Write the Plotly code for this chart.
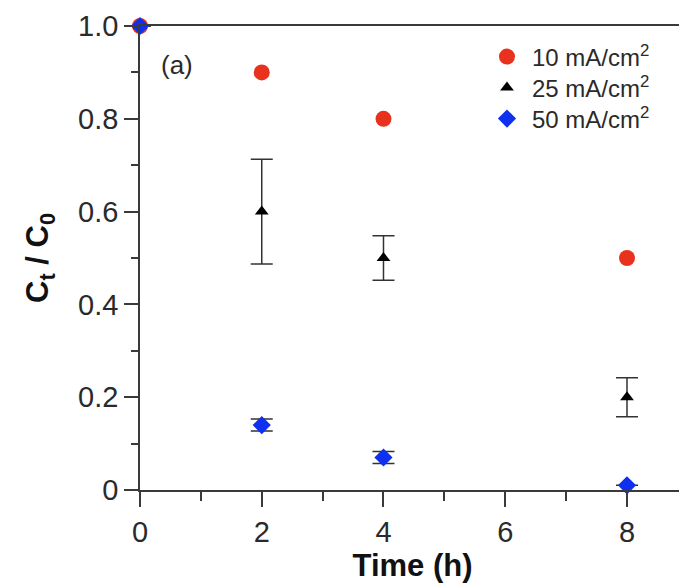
import plotly.graph_objects as go

time_h = [0, 2, 4, 8]
c10 = [1.0, 0.9, 0.8, 0.5]
c25 = [1.0, 0.6, 0.5, 0.2]
c25_err = [0.0, 0.113, 0.048, 0.042]
c50 = [1.0, 0.14, 0.07, 0.01]
c50_err = [0.0, 0.013, 0.013, 0.0]
names = ["10 mA/cm<sup>2</sup>", "25 mA/cm<sup>2</sup>", "50 mA/cm<sup>2</sup>"]
y_ticks = [0, 0.2, 0.4, 0.6, 0.8, 1.0]
y_ticktext = ["0", "0.2", "0.4", "0.6", "0.8", "1.0"]
x_ticks = [0, 2, 4, 6, 8]

FONT = "Liberation Sans, Arial, Helvetica, sans-serif"
AX = "#3a3a3a"
TXT = "#2a2a2a"

fig = go.Figure()
fig.add_trace(go.Scatter(x=time_h, y=c10, mode="markers", name=names[0], legend="legend",
                         marker=dict(symbol="circle", size=16, color="#e8321e"),
                         cliponaxis=False))
fig.add_trace(go.Scatter(x=time_h, y=c25, mode="markers", name=names[1], legend="legend2",
                         marker=dict(symbol="triangle-up", size=12, color="black"),
                         error_y=dict(type="data", array=c25_err, visible=True,
                                      color="#333333", thickness=1.5, width=11),
                         cliponaxis=False))
fig.add_trace(go.Scatter(x=time_h, y=c50, mode="markers", name=names[2], legend="legend3",
                         marker=dict(symbol="diamond", size=14, color="#1030f0"),
                         error_y=dict(type="data", array=c50_err, visible=True,
                                      color="#333333", thickness=1.5, width=11),
                         cliponaxis=False))

fig.add_annotation(x=0.035, y=0.915, xref="paper", yref="paper", text="(a)", showarrow=False,
                   xanchor="left", yanchor="middle",
                   font=dict(family=FONT, size=26, color=TXT))

leg_common = dict(xanchor="left", yanchor="middle", bgcolor="rgba(0,0,0,0)",
                  itemwidth=40, font=dict(family=FONT, size=24, color=TXT))
leg_x = 0.6275

fig.update_layout(
    width=679, height=577,
    margin=dict(l=132, r=2, t=18, b=95),
    paper_bgcolor="white", plot_bgcolor="white",
    font=dict(family=FONT, color=TXT),
    showlegend=True,
    legend=dict(x=leg_x, y=0.9332, **leg_common),
    legend2=dict(x=leg_x, y=0.8664, **leg_common),
    legend3=dict(x=leg_x, y=0.7996, **leg_common),
    xaxis=dict(range=[0, 8.953], tickvals=x_ticks, showgrid=False, zeroline=False,
               automargin=False,
               showline=True, linecolor=AX, linewidth=1.5, mirror=True,
               ticks="outside", ticklen=15, tickwidth=1.5, tickcolor=AX,
               minor=dict(dtick=1, tick0=0, ticks="outside", ticklen=9,
                          tickwidth=1.5, tickcolor=AX, showgrid=False),
               tickfont=dict(family=FONT, size=29, color=TXT),
               title=dict(text="<b>Time (h)</b>", standoff=8,
                          font=dict(family=FONT, size=31, color="#111111"))),
    yaxis=dict(range=[0, 1.0], tickvals=y_ticks, ticktext=y_ticktext,
               showgrid=False, zeroline=False, automargin=False,
               showline=True, linecolor=AX, linewidth=1.5, mirror=True,
               ticks="outside", ticklen=14, tickwidth=1.5, tickcolor=AX,
               minor=dict(dtick=0.1, tick0=0, ticks="outside", ticklen=7,
                          tickwidth=1.5, tickcolor=AX, showgrid=False),
               tickfont=dict(family=FONT, size=29, color=TXT),
               title=dict(text="<b>C<sub>t</sub> / C<sub>0</sub></b>", standoff=20,
                          font=dict(family=FONT, size=31, color="#111111"))),
)

fig.write_html("out.html")
